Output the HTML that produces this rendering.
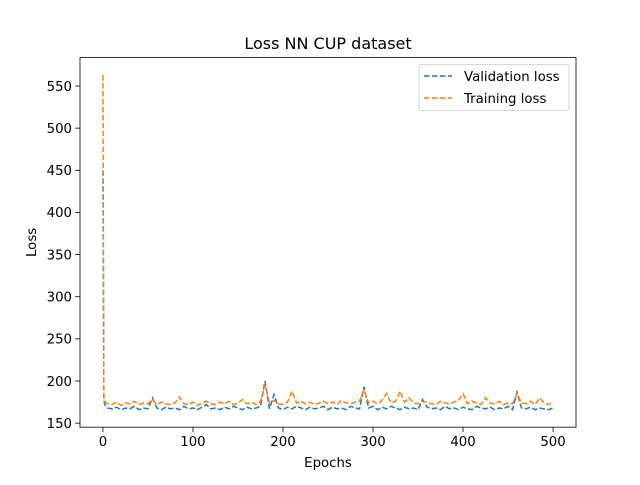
<!DOCTYPE html>
<html><head><meta charset="utf-8"><style>
body{margin:0;background:#fff;}
svg text{font-family:"DejaVu Sans","Liberation Sans",sans-serif;}
</style></head><body>
<svg id="chart" width="640" height="480" viewBox="0 0 640 480" xmlns="http://www.w3.org/2000/svg">
<rect width="640" height="480" fill="#fff"/>
<g id="plot"></g>
</svg>
<script>
const epochs = [0,1,2,5,10,15,20,25,30,35,40,45,50,55,60,65,70,75,80,85,90,95,100,105,110,115,120,125,130,135,140,145,150,155,160,165,170,175,180,185,190,195,200,205,210,215,220,225,230,235,240,245,250,255,260,265,270,275,280,285,290,295,300,305,310,315,320,325,330,335,340,345,350,355,360,365,370,375,380,385,390,395,400,405,410,415,420,425,430,435,440,445,450,455,460,465,470,475,480,485,490,495,500];
const valLoss = [450,178,172,168,167,169,166,168,167,170,166,168,167,180,168,166,169,167,168,166,170,167,168,166,169,172,167,168,166,169,167,170,168,166,169,167,168,170,200,167,184,168,166,169,167,170,168,166,169,167,168,170,166,169,167,168,166,170,168,167,193,168,170,166,169,167,170,168,166,169,167,168,166,178,169,167,168,166,170,167,168,166,169,167,166,170,168,167,169,166,168,167,170,166,187,168,167,169,166,168,167,166,168];
const trainLoss = [563,182,176,173,172,175,171,174,173,176,172,174,173,178,172,175,173,172,174,181,173,172,175,171,174,176,173,172,175,173,176,172,174,178,173,175,172,176,195,174,177,173,172,175,188,174,176,173,175,172,174,176,173,175,172,177,174,173,175,176,190,174,176,173,177,185,174,176,188,175,180,174,173,176,175,173,172,176,174,173,175,177,185,173,176,174,172,180,174,173,176,172,174,173,185,174,173,176,172,180,174,172,175];
const xTicks = [0,100,200,300,400,500];
const yTicks = [150,200,250,300,350,400,450,500,550];

const L=80,R=576,T=57.6,B=427.2;
const xmin=-25.5,xmax=525.5,ymin=145.2,ymax=583.7;
const sx=v=>L+(v-xmin)/(xmax-xmin)*(R-L);
const sy=v=>B-(v-ymin)/(ymax-ymin)*(B-T);
const NS="http://www.w3.org/2000/svg";
const g=document.getElementById('plot');
function mk(tag,attrs,parent){const e=document.createElementNS(NS,tag);for(const k in attrs)e.setAttribute(k,attrs[k]);(parent||g).appendChild(e);return e;}

function series(vals,color,name){
  const d=vals.map((v,i)=>(i?'L':'M')+sx(epochs[i]).toFixed(2)+','+sy(v).toFixed(2)).join('');
  const p=mk('path',{d:d,fill:'none',stroke:color,'stroke-width':1.5,'stroke-dasharray':'5.55,2.4'});
  
  
}
series(valLoss,'#1f77b4','validation-loss-line');
series(trainLoss,'#ff7f0e','training-loss-line');

const frame=mk('rect',{x:L,y:T,width:R-L,height:B-T,fill:'none',stroke:'#000','stroke-width':0.8});



xTicks.forEach(t=>{
  const x=sx(t);
  mk('line',{x1:x,x2:x,y1:B,y2:B+4.9,stroke:'#000','stroke-width':0.8});
  const tx=mk('text',{x:x,y:B+19,'font-size':13.3,'text-anchor':'middle'});
  tx.textContent=t;
  
  
});
yTicks.forEach(t=>{
  const y=sy(t);
  mk('line',{x1:L-4.9,x2:L,y1:y,y2:y,stroke:'#000','stroke-width':0.8});
  const tx=mk('text',{x:L-8,y:y+4.8,'font-size':13.3,'text-anchor':'end'});
  tx.textContent=t;
  
  
});

const title=mk('text',{x:(L+R)/2,y:49,'font-size':16,'text-anchor':'middle'});
title.textContent='Loss NN CUP dataset';


const xl=mk('text',{x:(L+R)/2,y:467,'font-size':13.3,'text-anchor':'middle'});
xl.textContent='Epochs';


const yl=mk('text',{x:36,y:(T+B)/2,'font-size':13.3,'text-anchor':'middle',transform:'rotate(-90 36 '+((T+B)/2)+')'});
yl.textContent='Loss';



const lg=mk('g',{});


mk('rect',{x:419,y:64.5,width:150,height:46,rx:2,fill:'#fff',stroke:'#ccc','stroke-width':0.8},lg);
[['Validation loss','#1f77b4',76],['Training loss','#ff7f0e',98]].forEach(([n,c,y])=>{
  mk('line',{x1:424,x2:452,y1:y,y2:y,stroke:c,'stroke-width':1.5,'stroke-dasharray':'5.55,2.4'},lg);
  const t=mk('text',{x:464,y:y+4.8,'font-size':13.3},lg);
  t.textContent=n;
  
  
});
</script>
</body></html>
